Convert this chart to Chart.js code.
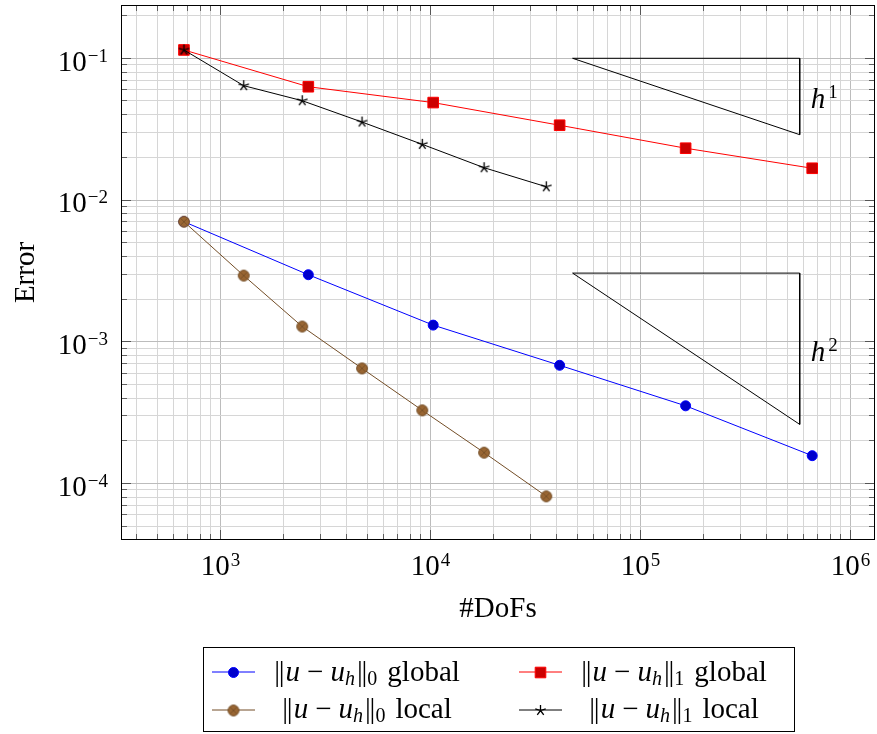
<!DOCTYPE html>
<html>
<head>
<meta charset="utf-8">
<script src="https://cdn.jsdelivr.net/npm/chart.js@4.4.1/dist/chart.umd.min.js"></script>
<style>
  html, body { margin: 0; padding: 0; background: #fff; }
</style>
</head>
<body>
<canvas id="errChart" width="877" height="734"></canvas>
<script>
// DoFs per refinement step
const dofsGlobal = [670, 2620, 10300, 41200, 164000, 657000];
const dofsLocal = [670, 1290, 2450, 4720, 9140, 18000, 35600];

// errors
const l2Global = [0.00703, 0.00297, 0.00131, 0.000682, 0.000353, 0.000157];
const h1Global = [0.1145, 0.0630, 0.0487, 0.0337, 0.0232, 0.01675];
const l2Local = [0.00703, 0.00293, 0.00128, 0.000648, 0.000328, 0.000165, 0.0000811];
const h1Local = [0.1145, 0.0641, 0.0502, 0.0355, 0.0247, 0.0169, 0.0124];

// reference slope triangles
const triX = [47500, 573000, 573000, 47500];
const triH1 = [0.1, 0.1, 0.0289, 0.1];
const triH2 = [0.00305, 0.00305, 0.000261, 0.00305];
const triLabels = ['1', '2'];

// axes
const xRange = [336, 1.308e6];
const yRange = [3.99e-5, 0.2377];
const xMajor = [1e3, 1e4, 1e5, 1e6];
const xTickExp = ['3', '4', '5', '6'];
const yMajor = [1e-4, 1e-3, 1e-2, 1e-1];
const yTickExp = ['\u22124', '\u22123', '\u22122', '\u22121'];

const legendNorm = ['0', '1', '0', '1'];
const legendWord = ['global', 'global', 'local', 'local'];

const SERIF = '"Liberation Serif", "Times New Roman", serif';

const pts = (xs, ys) => xs.map((x, i) => ({ x: x, y: ys[i] }));

function isMajor(v) {
  const l = Math.log10(v);
  return Math.abs(l - Math.round(l)) < 1e-6;
}

function decadeGrid(min, max) {
  const vals = [];
  for (let d = Math.floor(Math.log10(min)); d <= Math.ceil(Math.log10(max)); d++) {
    for (let k = 1; k <= 9; k++) {
      const v = k * Math.pow(10, d);
      if (v >= min && v <= max) vals.push(v);
    }
  }
  return vals;
}

// circle with a cross (pgfplots otimes*)
function otimesMark() {
  const c = document.createElement('canvas');
  c.width = c.height = 14;
  const g = c.getContext('2d');
  g.beginPath();
  g.arc(7, 7, 5.4, 0, 2 * Math.PI);
  g.fillStyle = 'rgb(153,102,51)';
  g.fill();
  g.strokeStyle = 'rgb(115,77,38)';
  g.lineWidth = 1;
  g.stroke();
  const d = 5.4 * Math.SQRT1_2;
  g.beginPath();
  g.moveTo(7 - d, 7 - d); g.lineTo(7 + d, 7 + d);
  g.moveTo(7 + d, 7 - d); g.lineTo(7 - d, 7 + d);
  g.lineWidth = 0.8;
  g.stroke();
  return c;
}

// five armed asterisk (pgfplots star)
function starMark() {
  const c = document.createElement('canvas');
  c.width = c.height = 13;
  const g = c.getContext('2d');
  g.strokeStyle = '#000';
  g.lineWidth = 1.3;
  g.beginPath();
  for (let k = 0; k < 5; k++) {
    const a = (-90 + 72 * k) * Math.PI / 180;
    g.moveTo(6.5, 6.5);
    g.lineTo(6.5 + 5.5 * Math.cos(a), 6.5 + 5.5 * Math.sin(a));
  }
  g.stroke();
  return c;
}

// draws a run of text pieces, returns total width
function runWidth(ctx, parts) {
  let w = 0;
  parts.forEach(p => {
    if (p.gap) { w += p.gap; return; }
    ctx.font = p.f;
    w += ctx.measureText(p.t).width;
  });
  return w;
}
function drawRun(ctx, parts, x, y) {
  parts.forEach(p => {
    if (p.gap) { x += p.gap; return; }
    ctx.font = p.f;
    ctx.fillText(p.t, x, y + (p.dy || 0));
    x += ctx.measureText(p.t).width;
  });
}

function normParts(idx, word) {
  const main = '29px ' + SERIF, ital = 'italic 29px ' + SERIF;
  const sub = '20px ' + SERIF, subI = 'italic 20px ' + SERIF;
  return [
    { t: '|', f: main }, { gap: -1.2 }, { t: '|', f: main }, { gap: 1 },
    { t: 'u', f: ital }, { gap: 7 }, { t: '\u2212', f: main }, { gap: 7 },
    { t: 'u', f: ital }, { t: 'h', f: subI, dy: 4 }, { gap: 2 },
    { t: '|', f: main }, { gap: -1.2 }, { t: '|', f: main },
    { t: idx, f: sub, dy: 4 }, { gap: 10 }, { t: word, f: main }
  ];
}

const decorations = {
  id: 'decorations',
  afterDatasetsDraw(chart) {
    const { ctx, chartArea: a, scales: { x, y } } = chart;
    const align = p => Math.round(p - 0.5) + 0.5;
    ctx.save();
    ctx.strokeStyle = 'rgba(0,0,0,0.55)';
    ctx.lineWidth = 1;
    ctx.beginPath();
    x.ticks.forEach(t => {
      const px = align(x.getPixelForValue(t.value));
      const len = isMajor(t.value) ? 10 : 6;
      ctx.moveTo(px, a.bottom); ctx.lineTo(px, a.bottom - len);
      ctx.moveTo(px, a.top); ctx.lineTo(px, a.top + len);
    });
    y.ticks.forEach(t => {
      const py = align(y.getPixelForValue(t.value));
      const len = isMajor(t.value) ? 10 : 6;
      ctx.moveTo(a.left, py); ctx.lineTo(a.left + len, py);
      ctx.moveTo(a.right, py); ctx.lineTo(a.right - len, py);
    });
    ctx.stroke();
    ctx.strokeStyle = '#000';
    ctx.strokeRect(a.left + 0.5, a.top + 0.5, a.right - a.left - 1, a.bottom - a.top - 1);
    ctx.restore();
  },
  afterDraw(chart) {
    const { ctx, chartArea: a, scales: { x, y } } = chart;
    const main = '29px ' + SERIF, sup = '19px ' + SERIF;
    ctx.save();
    ctx.fillStyle = '#000';
    ctx.textBaseline = 'alphabetic';
    ctx.textAlign = 'left';

    // x tick labels
    xMajor.forEach((v, i) => {
      const parts = [{ t: '10', f: main }, { gap: 1 }, { t: xTickExp[i], f: sup, dy: -9 }];
      const w = runWidth(ctx, parts);
      drawRun(ctx, parts, x.getPixelForValue(v) - w / 2, a.bottom + 35);
    });
    // y tick labels
    yMajor.forEach((v, i) => {
      const parts = [{ t: '10', f: main }, { gap: 1 }, { t: yTickExp[i], f: sup, dy: -9 }];
      const w = runWidth(ctx, parts);
      drawRun(ctx, parts, a.left - 13 - w, y.getPixelForValue(v) + 12.4);
    });

    // axis titles
    ctx.font = main;
    ctx.textAlign = 'center';
    ctx.fillText('#DoFs', (a.left + a.right) / 2, 617);
    ctx.save();
    ctx.translate(34, (a.top + a.bottom) / 2);
    ctx.rotate(-Math.PI / 2);
    ctx.fillText('Error', 0, 0);
    ctx.restore();
    ctx.textAlign = 'left';

    // slope labels next to the triangles
    [triH1, triH2].forEach((tri, i) => {
      const px = x.getPixelForValue(triX[1]) + 11;
      const mid = (y.getPixelForValue(tri[1]) + y.getPixelForValue(tri[2])) / 2;
      drawRun(ctx, [{ t: 'h', f: 'italic 29px ' + SERIF }, { gap: 3 }, { t: triLabels[i], f: sup, dy: -10 }], px, mid + 12);
    });

    // legend (2 columns)
    ctx.lineWidth = 1;
    ctx.strokeStyle = '#000';
    ctx.strokeRect(203.5, 647.5, 591, 84);
    const colLine = [212, 519];
    const colText = [367, 674];
    const rowY = [672, 710];
    const rowBase = [681, 718];
    for (let i = 0; i < 4; i++) {
      const col = i % 2, row = Math.floor(i / 2);
      const ds = chart.data.datasets[i];
      ctx.strokeStyle = ds.borderColor;
      ctx.beginPath();
      ctx.moveTo(colLine[col], rowY[row]);
      ctx.lineTo(colLine[col] + 43, rowY[row]);
      ctx.stroke();
      ctx.fillStyle = ds.pointBackgroundColor || ds.borderColor;
      ctx.strokeStyle = ds.pointBorderColor || ds.borderColor;
      Chart.helpers.drawPoint(ctx, {
        pointStyle: ds.pointStyle, radius: ds.pointRadius, borderWidth: 1, rotation: 0
      }, colLine[col] + 21.5, rowY[row] + 0.5);
      ctx.fillStyle = '#000';
      const parts = normParts(legendNorm[i], legendWord[i]);
      const w = runWidth(ctx, parts);
      drawRun(ctx, parts, colText[col] - w / 2, rowBase[row]);
    }
    ctx.restore();
  }
};

const gridColor = c => (c.tick && isMajor(c.tick.value)) ? 'rgb(188,188,188)' : 'rgb(214,214,214)';

new Chart(document.getElementById('errChart'), {
  type: 'scatter',
  data: {
    datasets: [
      {
        label: 'L2 global', data: pts(dofsGlobal, l2Global), showLine: true, order: 4,
        borderColor: 'rgb(0,0,255)', borderWidth: 1,
        pointStyle: 'circle', pointRadius: 5, pointBorderWidth: 1,
        pointBackgroundColor: 'rgb(0,0,204)', pointBorderColor: 'rgb(0,0,255)'
      },
      {
        label: 'H1 global', data: pts(dofsGlobal, h1Global), showLine: true, order: 3,
        borderColor: 'rgb(255,0,0)', borderWidth: 1,
        pointStyle: 'rect', pointRadius: 7.5, pointBorderWidth: 1,
        pointBackgroundColor: 'rgb(204,0,0)', pointBorderColor: 'rgb(255,0,0)'
      },
      {
        label: 'L2 local', data: pts(dofsLocal, l2Local), showLine: true, order: 2,
        borderColor: 'rgb(115,77,38)', borderWidth: 1,
        pointStyle: otimesMark(), pointRadius: 6
      },
      {
        label: 'H1 local', data: pts(dofsLocal, h1Local), showLine: true, order: 1,
        borderColor: '#000', borderWidth: 1,
        pointStyle: starMark(), pointRadius: 5
      },
      {
        label: 'slope 1', data: pts(triX, triH1), showLine: true, order: 5,
        borderColor: '#000', borderWidth: 1, pointRadius: 0
      },
      {
        label: 'slope 2', data: pts(triX, triH2), showLine: true, order: 5,
        borderColor: '#000', borderWidth: 1, pointRadius: 0
      }
    ]
  },
  options: {
    responsive: false,
    animation: false,
    devicePixelRatio: 1,
    events: [],
    layout: { autoPadding: false, padding: { left: 121, top: 5, right: 2, bottom: 194 } },
    plugins: { legend: { display: false }, tooltip: { enabled: false } },
    scales: {
      x: {
        type: 'logarithmic', min: xRange[0], max: xRange[1],
        afterBuildTicks: s => { s.ticks = decadeGrid(xRange[0], xRange[1]).map(v => ({ value: v })); },
        ticks: { display: false, autoSkip: false },
        grid: { drawTicks: false, color: gridColor, lineWidth: 1 },
        border: { display: false }
      },
      y: {
        type: 'logarithmic', min: yRange[0], max: yRange[1],
        afterBuildTicks: s => { s.ticks = decadeGrid(yRange[0], yRange[1]).map(v => ({ value: v })); },
        ticks: { display: false, autoSkip: false },
        grid: { drawTicks: false, color: gridColor, lineWidth: 1 },
        border: { display: false }
      }
    }
  },
  plugins: [decorations]
});
</script>
</body>
</html>
